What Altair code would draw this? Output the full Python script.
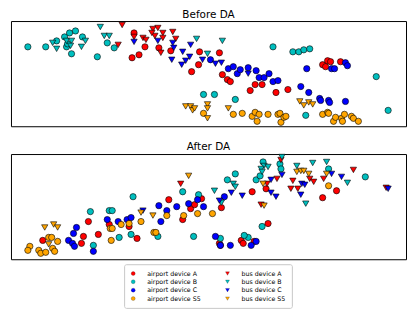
import altair as alt
import pandas as pd

# ---- Before DA ----
b_airA_x = [134,145,139,132,159,171,192,200,199,220,223,228,231,251,256,263,277,289,324,327,329,332,342]
b_airA_y = [32,46,54,57,47,50,71,51,64,52,74,79,81,90,84,84,92,89,64,66,60,61,61]
b_airB_x = [27,45,56,64,69,75,82,66,71,97,107,114,67,204,215,236,274,294,300,305,311,378,390,307]
b_airB_y = [46,46,40,36,32,30,36,46,53,56,42,47,43,94,94,99,46,51,51,49,48,76,110,115]
b_airC_x = [211,229,234,238,241,249,257,260,265,270,274,279,302,308,310,321,322,330,331,347,333,336,347,349]
b_airC_y = [59,68,66,73,69,67,70,77,77,73,81,80,86,68,92,98,100,100,102,101,68,68,62,65]
b_airS_x = [204,234,243,253,256,258,260,269,279,281,282,285,287,324,329,330,335,337,343,346,344,353,355,360]
b_airS_y = [113,114,113,116,112,121,114,114,114,113,122,117,116,114,112,113,121,117,118,114,121,116,118,121]
b_busA_x = [122,118,134,143,146,153,158,155,163,163,152,173,176,161]
b_busA_y = [24,44,36,37,39,28,27,35,32,37,32,31,38,52]
b_busB_x = [52,56,66,71,70,85,81,100,104,109,197,223,208]
b_busB_y = [42,48,40,40,45,40,46,26,35,35,38,40,53]
b_busC_x = [134,158,173,174,183,191,190,186,182,172,203,216,222,249]
b_busC_y = [41,40,42,47,51,44,56,60,64,59,59,63,62,73]
b_busS_x = [186,191,193,195,208,208,208,229,301,305,310,314]
b_busS_y = [106,106,110,108,104,108,118,108,101,105,102,104]

# ---- After DA ----
a_airA_x = [42,83,81,88,98,109,129,137,169,183,191,195,202,222,253,267,269,220,221,242,244,255,324,338]
a_airA_y = [241,237,244,222,235,225,227,239,200,220,209,205,199,208,192,189,224,244,246,241,244,242,198,191]
a_airB_x = [90,109,112,133,183,199,119,131,93,158,194,228,236,257,261,264,281,282,263,249,245,221,330,367]
a_airB_y = [212,211,211,197,192,195,238,235,246,237,237,180,174,180,176,162,164,169,227,238,236,239,169,177]
a_airC_x = [68,73,76,72,74,93,107,118,127,131,159,167,161,177,189,198,204,225,216,221,231,252,257]
a_airC_y = [241,234,228,244,247,252,220,222,220,218,206,211,222,207,204,200,207,197,237,246,246,246,242]
a_airS_x = [29,27,38,40,45,52,54,48,51,57,110,112,111,121,129,141,154,156,167,184,198,213,330]
a_airS_y = [247,251,251,254,253,249,252,238,238,242,229,229,241,225,224,222,233,233,216,216,214,214,186]
a_busA_x = [181,268,278,282,294,292,299,311,315,325,355,388,262]
a_busA_y = [184,184,179,160,181,189,189,179,182,179,170,188,205]
a_busB_x = [283,265,269,262,263,234,236,215,298,314,328,349,307,222]
a_busB_y = [157,166,167,169,172,184,187,191,166,163,162,183,204,203]
a_busC_x = [143,220,232,243,272,277,272,283,303,306,302,333,343,390]
a_busC_y = [211,201,193,196,193,197,180,175,184,185,195,174,177,189]
a_busS_x = [44,53,57,48,141,153,189,265,264,298,302,305,310,328]
a_busS_y = [228,225,228,245,213,216,176,206,184,172,171,171,174,174]

groups = ["airport device A", "airport device B", "airport device C", "airport device S5",
          "bus device A", "bus device B", "bus device C", "bus device S5"]
colors = ["#ff0000", "#00bfbf", "#0000ff", "#ffa500",
          "#ff0000", "#00bfbf", "#0000ff", "#ffa500"]
shapes = ["circle"] * 4 + ["triangle-down"] * 4

rows = []
def add(panel, name, xs, ys):
    for x, y in zip(xs, ys):
        rows.append({"panel": panel, "group": name, "x": x, "y": y})

add("before", "airport device A", b_airA_x, b_airA_y)
add("before", "airport device B", b_airB_x, b_airB_y)
add("before", "airport device C", b_airC_x, b_airC_y)
add("before", "airport device S5", b_airS_x, b_airS_y)
add("before", "bus device A", b_busA_x, b_busA_y)
add("before", "bus device B", b_busB_x, b_busB_y)
add("before", "bus device C", b_busC_x, b_busC_y)
add("before", "bus device S5", b_busS_x, b_busS_y)
add("after", "airport device A", a_airA_x, a_airA_y)
add("after", "airport device B", a_airB_x, a_airB_y)
add("after", "airport device C", a_airC_x, a_airC_y)
add("after", "airport device S5", a_airS_x, a_airS_y)
add("after", "bus device A", a_busA_x, a_busA_y)
add("after", "bus device B", a_busB_x, a_busB_y)
add("after", "bus device C", a_busC_x, a_busC_y)
add("after", "bus device S5", a_busS_x, a_busS_y)
df = pd.DataFrame(rows)

FONT = "DejaVu Sans"

def panel(name, title, ydom):
    return alt.Chart(df[df.panel == name], title=alt.TitleParams(
        title, fontSize=10.5, font=FONT, fontWeight="normal", offset=1, color="black")
    ).mark_point(filled=True, opacity=1, size=40, stroke="black", strokeWidth=0.6).encode(
        x=alt.X("x:Q", axis=None, scale=alt.Scale(domain=[10, 408], nice=False, zero=False)),
        y=alt.Y("y:Q", axis=None, scale=alt.Scale(domain=ydom, nice=False, zero=False, reverse=True)),
        fill=alt.Fill("group:N", scale=alt.Scale(domain=groups, range=colors),
                      legend=alt.Legend(title=None, orient="none", legendX=114, legendY=245,
                                        columns=2, padding=6, strokeColor="#c8c8c8",
                                        cornerRadius=2, labelFont=FONT, labelFontSize=6.3,
                                        labelColor="black",
                                        symbolSize=16, rowPadding=1.5, columnPadding=23,
                                        labelOffset=11, symbolStrokeColor="black",
                                        symbolStrokeWidth=0.2)),
        shape=alt.Shape("group:N", scale=alt.Scale(domain=groups, range=shapes)),
    ).properties(width=398, height=106)

chart = alt.vconcat(
    panel("before", "Before DA", [20, 126]),
    panel("after", "After DA", [154, 260]),
    spacing=14,
).properties(
    padding={"left": 2, "top": 0, "right": 0, "bottom": 0}
).configure_view(stroke="black", strokeWidth=1)

chart.save("out.html", embed_options={"renderer": "svg", "actions": False})
